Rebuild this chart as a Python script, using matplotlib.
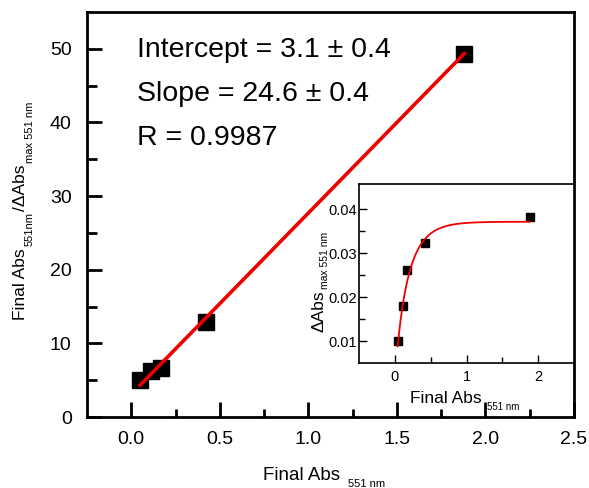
import numpy as np
import matplotlib
matplotlib.use("Agg")
import matplotlib.pyplot as plt
from matplotlib.ticker import FixedLocator

plt.rcParams['font.family'] = ['Liberation Sans', 'DejaVu Sans']

# Measured data
final_abs = [0.05, 0.11, 0.17, 0.42, 1.88]
ratio = [5.0, 6.3, 6.6, 12.9, 49.3]           # Final Abs / dAbs_max
delta_abs = [0.0100, 0.0181, 0.0261, 0.0323, 0.0382]

# Linear fit of the ratio plot
intercept, intercept_err = 3.1, 0.4
slope, slope_err = 24.6, 0.4
r_value = 0.9987

# Saturation fit shown in the inset: A * (1 - exp(-(x / t) ** m))
sat_max, sat_t, sat_m = 0.0372, 0.171, 0.9

W, H = 589, 488
fig = plt.figure(figsize=(W / 100, H / 100), dpi=100)

def fx(px):
    return px / W

def fy(py):
    return 1 - py / H

# ---- main axes ----
ax = fig.add_axes([fx(87), fy(417), fx(574) - fx(87), fy(12) - fy(417)])
ax.plot(final_abs, ratio, 's', color='black', markersize=11.5, zorder=2)
xfit = np.linspace(final_abs[0], final_abs[-1], 50)
ax.plot(xfit, intercept + slope * xfit, '-', color='#ee0000', lw=2.6, zorder=3)
ax.set_xlim(-0.25, 2.5)
ax.set_ylim(0, 55)
ax.xaxis.set_major_locator(FixedLocator([0, 0.5, 1.0, 1.5, 2.0, 2.5]))
ax.xaxis.set_minor_locator(FixedLocator([0.25, 0.75, 1.25, 1.75, 2.25]))
ax.yaxis.set_major_locator(FixedLocator([0, 10, 20, 30, 40, 50]))
ax.yaxis.set_minor_locator(FixedLocator([5, 15, 25, 35, 45]))
ax.set_xticklabels(['0.0', '0.5', '1.0', '1.5', '2.0', '2.5'])
ax.tick_params(which='both', direction='in', top=False, right=False,
               width=2.0, labelsize=14)
ax.tick_params(axis='x', which='major', length=11, pad=10)
ax.tick_params(axis='x', which='minor', length=5.5)
ax.tick_params(axis='y', which='major', length=11, pad=11)
ax.tick_params(axis='y', which='minor', length=7)
for s in ax.spines.values():
    s.set_linewidth(2.0)

fig.text(fx(137), fy(57), f"Intercept = {intercept} \u00b1 {intercept_err}", fontsize=20.5)
fig.text(fx(137), fy(101), f"Slope = {slope} \u00b1 {slope_err}", fontsize=20.5)
fig.text(fx(137), fy(145), f"R = {r_value}", fontsize=20.5)

# ---- inset ----
ins = fig.add_axes([fx(359), fy(363), fx(574) - fx(359), fy(184) - fy(363)])
xs = np.linspace(0.04, 1.88, 300)
ins.plot(xs, sat_max * (1 - np.exp(-(xs / sat_t) ** sat_m)), '-',
         color='#ee0000', lw=1.3, zorder=3)
ins.plot(final_abs, delta_abs, 's', color='black', markersize=6, zorder=2)
ins.set_xlim(-0.5, 2.5)
ins.set_ylim(0.005, 0.0458)
ins.xaxis.set_major_locator(FixedLocator([0, 1, 2]))
ins.xaxis.set_minor_locator(FixedLocator([0.5, 1.5]))
ins.yaxis.set_major_locator(FixedLocator([0.01, 0.02, 0.03, 0.04]))
ins.yaxis.set_minor_locator(FixedLocator([0.015, 0.025, 0.035]))
ins.tick_params(which='both', direction='in', top=False, right=False,
                width=1.0, labelsize=10.5, pad=1.5)
ins.tick_params(which='major', length=6)
ins.tick_params(which='minor', length=4)
ins.tick_params(axis='x', pad=5)
for s in ins.spines.values():
    s.set_linewidth(1.2)

# ---- axis titles with subscripts, drawn piece by piece ----
renderer = fig.canvas.get_renderer()

def chain_h(x0, pieces):
    x = x0
    for txt, size, base, gap in pieces:
        t = fig.text(fx(x), fy(base), txt, fontsize=size, ha='left', va='baseline')
        bb = t.get_window_extent(renderer)
        x = x + bb.width + gap

def chain_v(y0, pieces):
    y = y0
    for txt, size, base, gap in pieces:
        t = fig.text(fx(base), fy(y), txt, fontsize=size, rotation=90,
                     rotation_mode='anchor', ha='left', va='baseline')
        bb = t.get_window_extent(renderer)
        y = y - bb.height - gap

chain_h(263, [("Final Abs", 13.5, 480, 8), ("551 nm", 8, 487, 0)])
chain_h(410, [("Final Abs", 12.5, 403, 5), ("551 nm", 7, 410, 0)])
chain_v(320, [("Final Abs", 12.5, 25, 2), ("551nm", 8, 33, 1),
              ("/\u0394Abs", 12.5, 25, 2), ("max 551 nm", 8, 33, 0)])
chain_v(332, [("\u0394Abs", 12.5, 323, 1), ("max 551 nm", 7.5, 328, 0)])

fig.savefig("out.png", dpi=100)
